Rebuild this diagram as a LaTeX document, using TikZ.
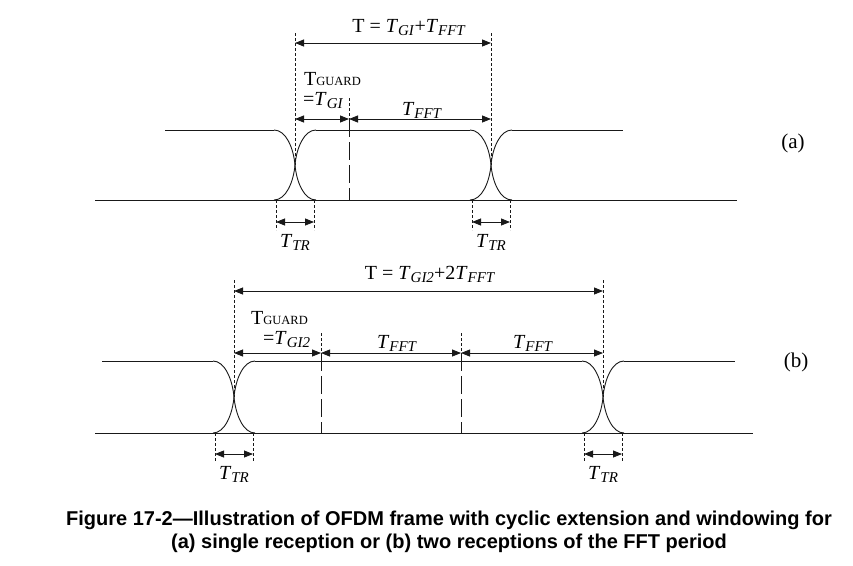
\documentclass[tikz,border=0pt]{standalone}
\usepackage{fontspec}
\setmainfont{Liberation Serif}
\newfontfamily\capfont{Liberation Sans}
\usepackage{tikz}
\usetikzlibrary{arrows.meta, calc}
\definecolor{mydark}{RGB}{25,25,25}
\newcommand{\lowsub}[1]{\raisebox{-0.4ex}{\fontsize{15}{15}\selectfont #1}}
\newcommand{\capsub}[1]{\raisebox{-0.1ex}{\fontsize{12.5}{12.5}\selectfont #1}}
\tikzset{
  signal/.style={line width=0.9pt, color=mydark},
  dimarrow/.style={{Triangle[length=9pt,width=7pt]}-{Triangle[length=9pt,width=7pt]},
    line width=0.8pt, color=mydark},
  guide/.style={line width=0.6pt, dash pattern=on 2.5pt off 2.5pt, color=mydark},
  fftmark/.style={line width=0.8pt, dash pattern=on 18pt off 5pt, color=mydark},
  lbl/.style={font=\fontsize{20}{20}\selectfont, inner sep=0pt, anchor=base}
}

\begin{document}
\begin{tikzpicture}[x=1pt, y=-1pt]
  \useasboundingbox (0,0) rectangle (853,565);

  % ── Transitions: falling and rising edges crossing at \cx ───────────────
  \foreach \cx/\yt/\yb in {295/130/200, 491/130/200, 234/361/433, 603/361/433} {
    \pgfmathsetmacro{\ym}{(\yt+\yb)/2}
    \draw[signal] (\cx-21,\yt) .. controls (\cx-9,\yt) and (\cx-1.5,\ym-17) .. (\cx,\ym)
      .. controls (\cx+1.5,\ym+17) and (\cx+9,\yb) .. (\cx+21,\yb);
    \draw[signal] (\cx-21,\yb) .. controls (\cx-9,\yb) and (\cx-1.5,\ym+17) .. (\cx,\ym)
      .. controls (\cx+1.5,\ym-17) and (\cx+9,\yt) .. (\cx+21,\yt);
  }

  % ── (a) single reception ─────────────────────────────────────────────────
  \draw[signal] (95,200) -- (737,200);
  \draw[signal] (165,130) -- (274,130);
  \draw[signal] (316,130) -- (470,130);
  \draw[signal] (512,130) -- (623,130);

  \coordinate (aS) at (295,43);
  \coordinate (aE) at (491,43);
  \coordinate (aGs) at (295,119);
  \coordinate (aGm) at (349,119);
  \coordinate (aGe) at (491,119);

  \draw[guide] (295,33) -- (295,165);
  \draw[guide] (491,33) -- (491,165);
  \draw[guide] (349,98) -- (aGm);
  \draw[fftmark] (aGm) -- (349,200);

  \draw[dimarrow] (aS) -- (aE);
  \draw[dimarrow] (aGs) -- (aGm);
  \draw[dimarrow] (aGm) -- (aGe);

  \node[lbl] (aT) at (409,32) {T = \textit{T}\lowsub{\textit{GI}}+\textit{T}\lowsub{\textit{FFT}}};
  \node[lbl, anchor=base west] (aGuard) at (304,85) {T\capsub{GUARD}};
  \node[lbl, anchor=base west] (aGI) at (303,105) {=\textit{T}\lowsub{\textit{GI}}};
  \node[lbl] (aFFT) at (422,115) {\textit{T}\lowsub{\textit{FFT}}};
  \node[lbl, anchor=center, font=\fontsize{21}{21}\selectfont] (aLab) at (793,143) {(a)};

  % ── (b) two receptions ───────────────────────────────────────────────────
  \draw[signal] (95,433) -- (753,433);
  \draw[signal] (102,361) -- (213,361);
  \draw[signal] (255,361) -- (582,361);
  \draw[signal] (624,361) -- (735,361);

  \coordinate (bS) at (234,291);
  \coordinate (bE) at (603,291);
  \coordinate (bGs) at (234,353);
  \coordinate (bGm) at (321,353);
  \coordinate (bGn) at (461,353);
  \coordinate (bGe) at (603,353);

  \draw[guide] (234,280) -- (234,397);
  \draw[guide] (603,280) -- (603,397);
  \foreach \gx/\gn in {321/bGm, 461/bGn} {
    \draw[guide] (\gx,333) -- (\gn);
    \draw[fftmark] (\gn) -- (\gx,433);
  }

  \draw[dimarrow] (bS) -- (bE);
  \draw[dimarrow] (bGs) -- (bGm);
  \draw[dimarrow] (bGm) -- (bGn);
  \draw[dimarrow] (bGn) -- (bGe);

  \node[lbl] (bT) at (430,279) {T = \textit{T}\lowsub{\textit{GI2}}+2\textit{T}\lowsub{\textit{FFT}}};
  \node[lbl, anchor=base west] (bGuard) at (251,324) {T\capsub{GUARD}};
  \node[lbl, anchor=base west] (bGI) at (263,344) {=\textit{T}\lowsub{\textit{GI2}}};
  \node[lbl] (bFFT1) at (397,348) {\textit{T}\lowsub{\textit{FFT}}};
  \node[lbl] (bFFT2) at (533,348) {\textit{T}\lowsub{\textit{FFT}}};
  \node[lbl, anchor=center, font=\fontsize{21}{21}\selectfont] (bLab) at (796,362) {(b)};

  % ── Transition widths T_TR ────────────────────────────────────────────────
  \foreach \cx/\yb/\ya/\n in {295/200/222/a1, 491/200/222/a2, 234/433/454/b1, 603/433/454/b2} {
    \coordinate (trl\n) at (\cx-19,\ya);
    \coordinate (trr\n) at (\cx+19,\ya);
    \draw[guide] (\cx-19,\yb) -- (\cx-19,\ya+8);
    \draw[guide] (\cx+19,\yb) -- (\cx+19,\ya+8);
    \draw[dimarrow] (trl\n) -- (trr\n);
    \node[lbl] (ttr\n) at (\cx,\ya+25) {\textit{T}\lowsub{\textit{TR}}};
  }

  % ── Caption ───────────────────────────────────────────────────────────────
  \node[align=center, inner sep=0pt, font=\capfont\bfseries\fontsize{20}{23}\selectfont]
    (caption) at (449,532) {Figure 17-2—Illustration of OFDM frame with cyclic extension and windowing for\\
    (a) single reception or (b) two receptions of the FFT period};
\end{tikzpicture}
\end{document}
